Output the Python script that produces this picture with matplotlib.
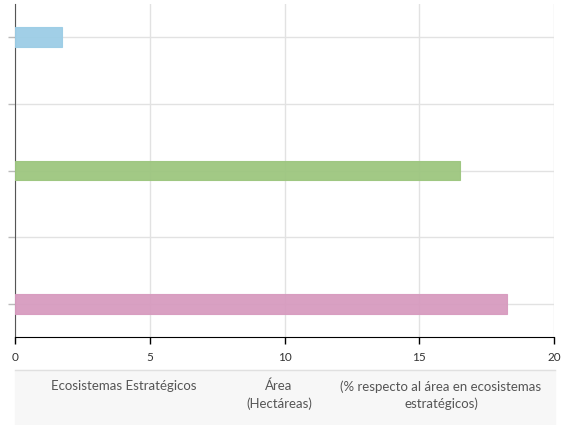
import matplotlib.pyplot as plt
from matplotlib.patches import Rectangle
from matplotlib.lines import Line2D

# Bars (slot position counted from the bottom, value)
positions = [0, 2, 4]
values = [18.25, 16.5, 1.75]
colors = ['#d79bbf', '#9dc67f', '#9ccde6']
slots = [0, 1, 2, 3, 4]
xticks = [0, 5, 10, 15, 20]

# Header texts under the chart
headers = ['Ecosistemas Estratégicos', 'Área\n(Hectáreas)',
           '(% respecto al área en ecosistemas\nestratégicos)']
header_x = [124, 279, 441]

plt.rcParams['font.family'] = ['Lato', 'DejaVu Sans']

fig = plt.figure(figsize=(5.61, 4.25), dpi=100)
ax = fig.add_axes([15 / 561, 1 - 337 / 425, 539 / 561, 333 / 425])

ax.barh(positions, values, height=0.3, color=colors,
        edgecolor=colors, linewidth=0.8, alpha=0.95, zorder=3)

ax.set_xlim(0, 20)
ax.set_ylim(-0.5, 4.5)
ax.set_xticks(xticks)
ax.set_yticks(slots)
ax.set_yticklabels([''] * len(slots))
ax.grid(True, color='#e2e2e2', linewidth=1, zorder=0)
ax.tick_params(axis='y', length=5, color='#bbbbbb', width=1)
ax.tick_params(axis='x', length=5, color='black', width=1, labelsize=8.5,
               labelcolor='#333333', pad=6)
for s in ['top', 'right']:
    ax.spines[s].set_visible(False)
ax.spines['left'].set_color('#555555')
ax.spines['bottom'].set_color('black')

# grey header band
fig.patches.append(Rectangle((15 / 561, 0), 540 / 561, 55 / 425,
                             transform=fig.transFigure, color='#f7f7f7', zorder=0))
fig.lines.append(Line2D([15 / 561, 555 / 561], [55 / 425, 55 / 425],
                        transform=fig.transFigure, color='#e0e0e0', linewidth=1))
for txt, x in zip(headers, header_x):
    fig.text(x / 561, 1 - 380 / 425, txt, ha='center', va='top', fontsize=9.5,
             color='#555555', linespacing=1.45)

plt.savefig('out.png', dpi=100)
